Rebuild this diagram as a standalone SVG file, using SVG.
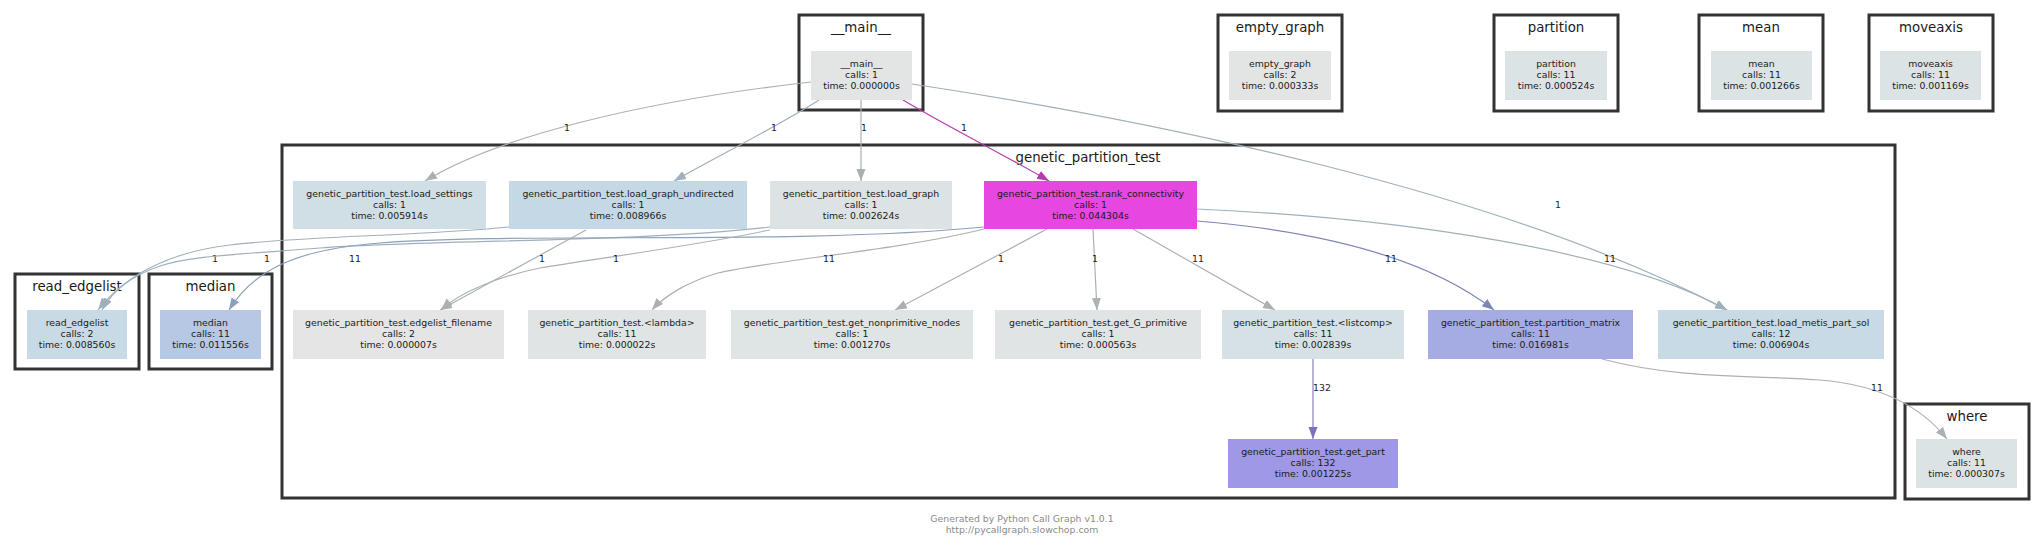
<svg xmlns="http://www.w3.org/2000/svg" width="2044" height="547" viewBox="0 0 2044 547">
<style>
  .bg{fill:#ffffff}
  .cl{fill:none;stroke:#333333;stroke-width:3}
  .ct{font-family:"DejaVu Sans","Liberation Sans",sans-serif;font-size:13.33px;fill:#1a1a1a;text-anchor:middle}
  .nt{font-family:"DejaVu Sans","Liberation Sans",sans-serif;font-size:9.33px;fill:#1a1a1a;text-anchor:middle}
  .el{font-family:"DejaVu Sans","Liberation Sans",sans-serif;font-size:9.33px;fill:#222222;text-anchor:middle}
  .ft{font-family:"DejaVu Sans","Liberation Sans",sans-serif;font-size:9.33px;fill:#8a8a8a;text-anchor:middle}
  .e{fill:none;stroke-width:1.2}
  .g{stroke:#abb1b3}
  .b{stroke:#9fb0bc}
  .md{stroke:#8d9fbc}
  .mg{stroke:#b53db1}
  .pm{stroke:#7f84b9}
  .gp{stroke:#8a80c4}
</style>
<defs>
  <marker id="ag" markerUnits="userSpaceOnUse" markerWidth="13" markerHeight="10" refX="12" refY="4.5" orient="auto"><path d="M0,0 L12,4.5 L0,9 z" fill="#abb1b3"/></marker>
  <marker id="ab" markerUnits="userSpaceOnUse" markerWidth="13" markerHeight="10" refX="12" refY="4.5" orient="auto"><path d="M0,0 L12,4.5 L0,9 z" fill="#9fb0bc"/></marker>
  <marker id="amd" markerUnits="userSpaceOnUse" markerWidth="13" markerHeight="10" refX="12" refY="4.5" orient="auto"><path d="M0,0 L12,4.5 L0,9 z" fill="#8d9fbc"/></marker>
  <marker id="amg" markerUnits="userSpaceOnUse" markerWidth="13" markerHeight="10" refX="12" refY="4.5" orient="auto"><path d="M0,0 L12,4.5 L0,9 z" fill="#b53db1"/></marker>
  <marker id="apm" markerUnits="userSpaceOnUse" markerWidth="13" markerHeight="10" refX="12" refY="4.5" orient="auto"><path d="M0,0 L12,4.5 L0,9 z" fill="#7f84b9"/></marker>
  <marker id="agp" markerUnits="userSpaceOnUse" markerWidth="13" markerHeight="10" refX="12" refY="4.5" orient="auto"><path d="M0,0 L12,4.5 L0,9 z" fill="#7c72bd"/></marker>
</defs>
<rect class="bg" x="0" y="0" width="2044" height="547"/>

<!-- clusters -->
<g id="cluster_main"><rect class="cl" x="799" y="15" width="124" height="95"/><text class="ct" x="861" y="32">__main__</text></g>
<g id="cluster_empty_graph"><rect class="cl" x="1218" y="15" width="124" height="96"/><text class="ct" x="1280" y="32">empty_graph</text></g>
<g id="cluster_partition"><rect class="cl" x="1494" y="15" width="124" height="96"/><text class="ct" x="1556" y="32">partition</text></g>
<g id="cluster_mean"><rect class="cl" x="1699" y="15" width="124" height="96"/><text class="ct" x="1761" y="32">mean</text></g>
<g id="cluster_moveaxis"><rect class="cl" x="1869" y="15" width="124" height="96"/><text class="ct" x="1931" y="32">moveaxis</text></g>
<g id="cluster_genetic_partition_test"><rect class="cl" x="282" y="145" width="1613" height="353"/><text class="ct" x="1088" y="161.5">genetic_partition_test</text></g>
<g id="cluster_read_edgelist"><rect class="cl" x="15" y="274" width="124" height="95"/><text class="ct" x="77" y="290.5">read_edgelist</text></g>
<g id="cluster_median"><rect class="cl" x="149" y="274" width="123" height="95"/><text class="ct" x="210.5" y="290.5">median</text></g>
<g id="cluster_where"><rect class="cl" x="1905" y="404" width="124" height="95"/><text class="ct" x="1967" y="420.5">where</text></g>

<!-- connectors -->
<g id="edges">
  <path class="e g" d="M811,82 C650,100 500,135 425,181" marker-end="url(#ag)"/>
  <text class="el" x="567" y="130.5">1</text>
  <path class="e b" d="M819,100 C780,125 720,155 674,181" marker-end="url(#ab)"/>
  <text class="el" x="774" y="130.5">1</text>
  <path class="e g" d="M861,100 L861,181" marker-end="url(#ag)"/>
  <text class="el" x="864" y="130.5">1</text>
  <path class="e mg" d="M903,100 C950,128 1010,158 1049,181" marker-end="url(#amg)"/>
  <text class="el" x="964" y="130.5">1</text>
  <path class="e b" d="M912,84 C1150,120 1500,190 1727,310" marker-end="url(#ab)"/>
  <text class="el" x="1558" y="207.5">1</text>

  <path class="e b" d="M509,227 C420,236 300,236 230,245 C170,252 125,275 98,310" marker-end="url(#ab)"/>
  <text class="el" x="215" y="261.5">1</text>
  <path class="e b" d="M770,227 C650,242 420,240 320,248 C230,255 190,256 160,266 C130,276 112,292 102,310" marker-end="url(#ab)"/>
  <text class="el" x="267" y="261.5">1</text>
  <path class="e md" d="M984,227 C800,245 520,232 380,243 C300,249 255,268 229,310" marker-end="url(#amd)"/>
  <text class="el" x="355" y="261.5">11</text>
  <path class="e g" d="M586,230 L440,310" marker-end="url(#ag)"/>
  <text class="el" x="542" y="261.5">1</text>
  <path class="e g" d="M770,230 C700,245 600,258 540,268 C500,276 460,292 441,310" marker-end="url(#ag)"/>
  <text class="el" x="616" y="261.5">1</text>

  <path class="e g" d="M984,229 C900,250 760,262 718,273 C690,281 665,295 652,310" marker-end="url(#ag)"/>
  <text class="el" x="829" y="261.5">11</text>
  <path class="e g" d="M1047,229 L895,310" marker-end="url(#ag)"/>
  <text class="el" x="1001" y="261.5">1</text>
  <path class="e g" d="M1093,229 L1097,310" marker-end="url(#ag)"/>
  <text class="el" x="1095" y="261.5">1</text>
  <path class="e g" d="M1133,229 L1275,310" marker-end="url(#ag)"/>
  <text class="el" x="1198" y="261.5">11</text>
  <path class="e pm" d="M1197,221 C1330,232 1430,260 1494,310" marker-end="url(#apm)"/>
  <text class="el" x="1391" y="261.5">11</text>
  <path class="e b" d="M1197,209 C1400,218 1620,250 1727,310" marker-end="url(#ab)"/>
  <text class="el" x="1610" y="261.5">11</text>

  <path class="e gp" d="M1313,359 L1313,439" marker-end="url(#agp)"/>
  <text class="el" x="1322" y="390.5">132</text>
  <path class="e g" d="M1602,359 C1680,380 1760,375 1820,380 C1880,385 1920,405 1947,439" marker-end="url(#ag)"/>
  <text class="el" x="1877" y="390.5">11</text>
</g>

<!-- nodes -->
<g id="node_main"><rect x="811" y="51" width="101" height="49" fill="#e3e5e4"/>
  <text class="nt"><tspan x="861.5" y="66.5">__main__</tspan><tspan x="861.5" y="77.8">calls: 1</tspan><tspan x="861.5" y="89.1">time: 0.000000s</tspan></text></g>
<g id="node_empty_graph"><rect x="1229" y="51" width="102" height="49" fill="#e3e5e4"/>
  <text class="nt"><tspan x="1280" y="66.5">empty_graph</tspan><tspan x="1280" y="77.8">calls: 2</tspan><tspan x="1280" y="89.1">time: 0.000333s</tspan></text></g>
<g id="node_partition"><rect x="1505" y="51" width="102" height="49" fill="#dce3e4"/>
  <text class="nt"><tspan x="1556" y="66.5">partition</tspan><tspan x="1556" y="77.8">calls: 11</tspan><tspan x="1556" y="89.1">time: 0.000524s</tspan></text></g>
<g id="node_mean"><rect x="1711" y="51" width="101" height="49" fill="#dce3e4"/>
  <text class="nt"><tspan x="1761.5" y="66.5">mean</tspan><tspan x="1761.5" y="77.8">calls: 11</tspan><tspan x="1761.5" y="89.1">time: 0.001266s</tspan></text></g>
<g id="node_moveaxis"><rect x="1880" y="51" width="101" height="49" fill="#dce3e4"/>
  <text class="nt"><tspan x="1930.5" y="66.5">moveaxis</tspan><tspan x="1930.5" y="77.8">calls: 11</tspan><tspan x="1930.5" y="89.1">time: 0.001169s</tspan></text></g>

<g id="node_load_settings"><rect x="293" y="181" width="193" height="48" fill="#d0dee5"/>
  <text class="nt"><tspan x="389.5" y="196.5">genetic_partition_test.load_settings</tspan><tspan x="389.5" y="207.8">calls: 1</tspan><tspan x="389.5" y="219.1">time: 0.005914s</tspan></text></g>
<g id="node_load_graph_undirected"><rect x="509" y="181" width="238" height="48" fill="#c5d8e5"/>
  <text class="nt"><tspan x="628" y="196.5">genetic_partition_test.load_graph_undirected</tspan><tspan x="628" y="207.8">calls: 1</tspan><tspan x="628" y="219.1">time: 0.008966s</tspan></text></g>
<g id="node_load_graph"><rect x="770" y="181" width="182" height="48" fill="#dde3e4"/>
  <text class="nt"><tspan x="861" y="196.5">genetic_partition_test.load_graph</tspan><tspan x="861" y="207.8">calls: 1</tspan><tspan x="861" y="219.1">time: 0.002624s</tspan></text></g>
<g id="node_rank_connectivity"><rect x="984" y="181" width="213" height="48" fill="#e547e0"/>
  <text class="nt"><tspan x="1090.5" y="196.5">genetic_partition_test.rank_connectivity</tspan><tspan x="1090.5" y="207.8">calls: 1</tspan><tspan x="1090.5" y="219.1">time: 0.044304s</tspan></text></g>

<g id="node_read_edgelist"><rect x="27" y="310" width="100" height="49" fill="#c8dae5"/>
  <text class="nt"><tspan x="77" y="325.5">read_edgelist</tspan><tspan x="77" y="336.8">calls: 2</tspan><tspan x="77" y="348.1">time: 0.008560s</tspan></text></g>
<g id="node_median"><rect x="160" y="310" width="101" height="49" fill="#b7c8e4"/>
  <text class="nt"><tspan x="210.5" y="325.5">median</tspan><tspan x="210.5" y="336.8">calls: 11</tspan><tspan x="210.5" y="348.1">time: 0.011556s</tspan></text></g>
<g id="node_edgelist_filename"><rect x="293" y="310" width="211" height="49" fill="#e4e5e4"/>
  <text class="nt"><tspan x="398.5" y="325.5">genetic_partition_test.edgelist_filename</tspan><tspan x="398.5" y="336.8">calls: 2</tspan><tspan x="398.5" y="348.1">time: 0.000007s</tspan></text></g>
<g id="node_lambda"><rect x="528" y="310" width="178" height="49" fill="#e0e4e4"/>
  <text class="nt"><tspan x="617" y="325.5">genetic_partition_test.&lt;lambda&gt;</tspan><tspan x="617" y="336.8">calls: 11</tspan><tspan x="617" y="348.1">time: 0.000022s</tspan></text></g>
<g id="node_get_nonprimitive_nodes"><rect x="731" y="310" width="242" height="49" fill="#dfe4e4"/>
  <text class="nt"><tspan x="852" y="325.5">genetic_partition_test.get_nonprimitive_nodes</tspan><tspan x="852" y="336.8">calls: 1</tspan><tspan x="852" y="348.1">time: 0.001270s</tspan></text></g>
<g id="node_get_G_primitive"><rect x="995" y="310" width="206" height="49" fill="#e0e4e4"/>
  <text class="nt"><tspan x="1098" y="325.5">genetic_partition_test.get_G_primitive</tspan><tspan x="1098" y="336.8">calls: 1</tspan><tspan x="1098" y="348.1">time: 0.000563s</tspan></text></g>
<g id="node_listcomp"><rect x="1222" y="310" width="182" height="49" fill="#d5e1e5"/>
  <text class="nt"><tspan x="1313" y="325.5">genetic_partition_test.&lt;listcomp&gt;</tspan><tspan x="1313" y="336.8">calls: 11</tspan><tspan x="1313" y="348.1">time: 0.002839s</tspan></text></g>
<g id="node_partition_matrix"><rect x="1428" y="310" width="205" height="49" fill="#a5ace3"/>
  <text class="nt"><tspan x="1530.5" y="325.5">genetic_partition_test.partition_matrix</tspan><tspan x="1530.5" y="336.8">calls: 11</tspan><tspan x="1530.5" y="348.1">time: 0.016981s</tspan></text></g>
<g id="node_load_metis_part_sol"><rect x="1658" y="310" width="226" height="49" fill="#c8dae5"/>
  <text class="nt"><tspan x="1771" y="325.5">genetic_partition_test.load_metis_part_sol</tspan><tspan x="1771" y="336.8">calls: 12</tspan><tspan x="1771" y="348.1">time: 0.006904s</tspan></text></g>
<g id="node_get_part"><rect x="1228" y="439" width="170" height="49" fill="#9f98e6"/>
  <text class="nt"><tspan x="1313" y="454.5">genetic_partition_test.get_part</tspan><tspan x="1313" y="465.8">calls: 132</tspan><tspan x="1313" y="477.1">time: 0.001225s</tspan></text></g>
<g id="node_where"><rect x="1916" y="439" width="101" height="49" fill="#dce3e4"/>
  <text class="nt"><tspan x="1966.5" y="454.5">where</tspan><tspan x="1966.5" y="465.8">calls: 11</tspan><tspan x="1966.5" y="477.1">time: 0.000307s</tspan></text></g>

<g id="footer">
  <text class="ft" x="1022" y="522">Generated by Python Call Graph v1.0.1</text>
  <text class="ft" x="1022" y="533">http://pycallgraph.slowchop.com</text>
</g>
</svg>
